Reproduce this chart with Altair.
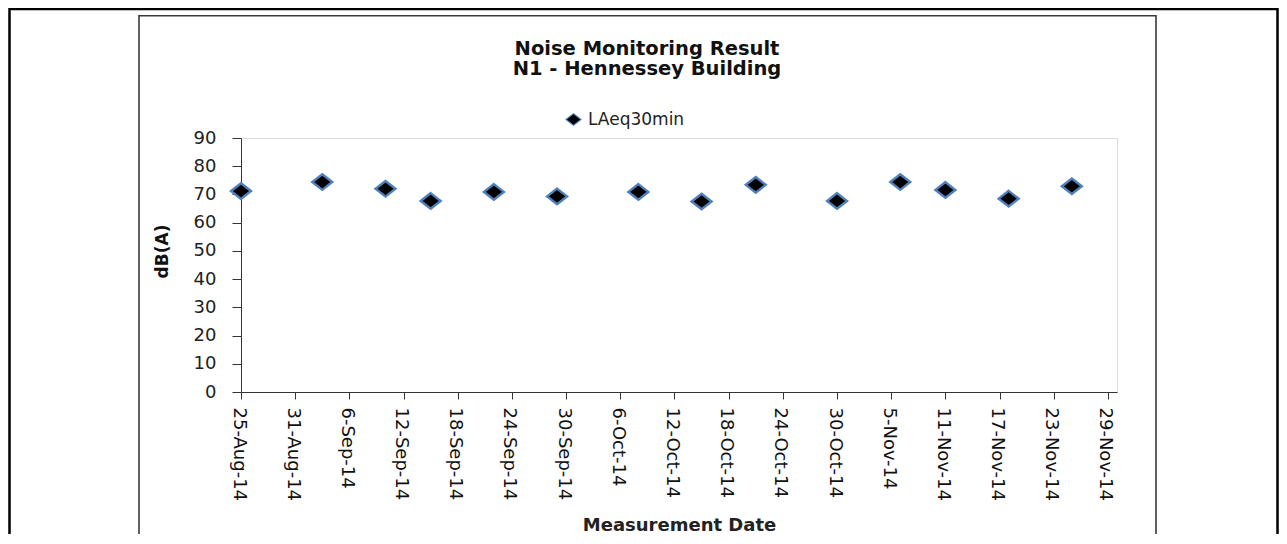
import altair as alt
import pandas as pd

# ---- data ----
dates = ["2014-08-25", "2014-09-03", "2014-09-10", "2014-09-15", "2014-09-22",
         "2014-09-29", "2014-10-08", "2014-10-15", "2014-10-21", "2014-10-30",
         "2014-11-06", "2014-11-11", "2014-11-18", "2014-11-25"]
values = [71.2, 74.4, 72.0, 67.7, 70.9, 69.3, 70.9, 67.5, 73.4, 67.7,
          74.4, 71.6, 68.5, 72.9]
series_name = "LAeq30min"
tick_dates = [(2014, 8, 25), (2014, 8, 31), (2014, 9, 6), (2014, 9, 12), (2014, 9, 18),
              (2014, 9, 24), (2014, 9, 30), (2014, 10, 6), (2014, 10, 12), (2014, 10, 18),
              (2014, 10, 24), (2014, 10, 30), (2014, 11, 5), (2014, 11, 11), (2014, 11, 17),
              (2014, 11, 23), (2014, 11, 29)]
x_domain = [(2014, 8, 25), (2014, 11, 30)]
y_ticks = [0, 10, 20, 30, 40, 50, 60, 70, 80, 90]
title_lines = ["Noise Monitoring Result", "N1 - Hennessey Building"]
x_title = "Measurement Date"
y_title = "dB(A)"

FONT = "DejaVu Sans"
BLUE = "#4F81BD"
DIAMOND = "M0,-0.78L1,0L0,0.78L-1,0Z"

def dt(t):
    return alt.DateTime(year=t[0], month=t[1], date=t[2], utc=True)

df = pd.DataFrame({"date": dates, "value": values,
                   "series": [series_name] * len(dates)})
one = pd.DataFrame({"k": [0]})

W, H = 876, 254

points = alt.Chart(df).mark_point(
    shape=DIAMOND, filled=True, size=400, stroke=BLUE, strokeWidth=2.4, opacity=1
).encode(
    x=alt.X("date:T",
            scale=alt.Scale(type="utc", domain=[dt(d) for d in x_domain], nice=False),
            axis=alt.Axis(values=[dt(d) for d in tick_dates],
                          labelExpr="utcFormat(datum.value, '%-d-%b-%y')",
                          labelAngle=90, labelFont=FONT,
                          labelFontSize=18, labelColor="#111", labelPadding=8,
                          labelOverlap=False, labelFlush=False, labelOffset=-3,
                          tickSize=7, tickColor="#333", domainColor="#333",
                          grid=False, title=x_title, titleFont=FONT,
                          titleFontSize=18, titleFontWeight="bold",
                          titleColor="#222", titleY=138,
                          titleBaseline="alphabetic")),
    y=alt.Y("value:Q",
            scale=alt.Scale(domain=[0, 90], nice=False, zero=True),
            axis=alt.Axis(values=y_ticks, labelFont=FONT, labelFontSize=18,
                          labelColor="#222", labelPadding=16, tickSize=9,
                          tickColor="#333", domainColor="#333", grid=False,
                          title=y_title, titleFont=FONT, titleFontSize=17,
                          titleFontWeight="bold", titleColor="#111",
                          titleAngle=-90, titleX=-79, titleY=113,
                          titleBaseline="middle", titleAlign="center")),
    color=alt.Color("series:N", scale=alt.Scale(range=["black"]),
                    legend=alt.Legend(orient="none", legendX=324, legendY=-27,
                                      title=None, padding=0, symbolType=DIAMOND,
                                      symbolSize=225, symbolStrokeColor=BLUE,
                                      symbolStrokeWidth=1.2, symbolFillColor="black",
                                      labelFont=FONT, labelFontSize=17,
                                      labelColor="#222", labelOffset=6)),
)

outer = alt.Chart(one).mark_rect(fill="transparent", stroke="black", strokeWidth=2.5).encode(
    x=alt.value(-231.5), x2=alt.value(1036.5), y=alt.value(-129), y2=alt.value(460))
inner = alt.Chart(one).mark_rect(fill="transparent", stroke="#3a3a3a", strokeWidth=1.6).encode(
    x=alt.value(-102), x2=alt.value(915), y=alt.value(-122.3), y2=alt.value(405))

chart = alt.layer(outer, inner, points).properties(
    width=W, height=H,
    title=alt.Title(title_lines, font=FONT, fontSize=19.5, fontWeight="bold",
                    color="#111", anchor="middle", dx=-32, lineHeight=20,
                    baseline="bottom", offset=0, dy=91),
    autosize=alt.AutoSizeParams(type="none"),
    padding={"left": 233, "top": 130, "right": 162, "bottom": 142},
).configure_view(strokeWidth=0).configure(background="white")

chart.save("out.html", embed_options={"renderer": "svg", "actions": False})
